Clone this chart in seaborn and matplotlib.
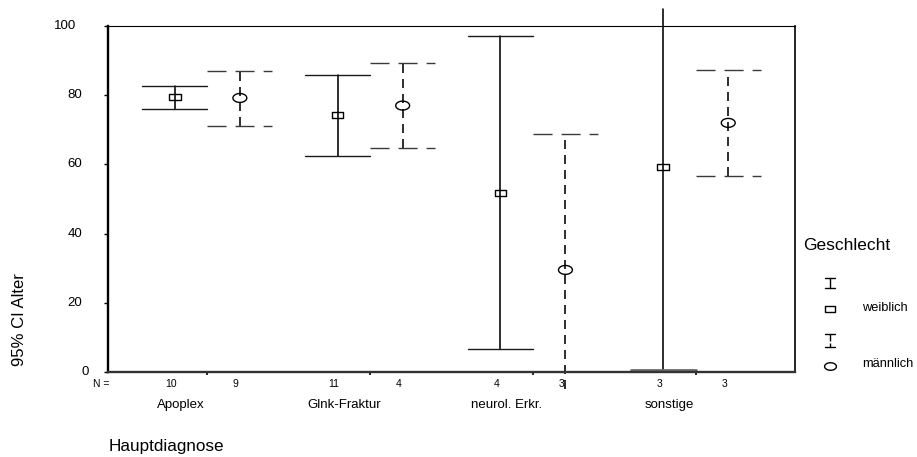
import numpy as np
import pandas as pd
import matplotlib
matplotlib.use("Agg")
import matplotlib.pyplot as plt
import matplotlib.transforms as mtransforms
from matplotlib.path import Path
from matplotlib.lines import Line2D
import seaborn as sns

# ---- data -------------------------------------------------------------
categories = ["Apoplex", "Glnk-Fraktur", "neurol. Erkr.", "sonstige"]
groups = ["weiblich", "männlich"]

mean_weiblich = [79.5, 74.2, 51.8, 59.3]
lower_weiblich = [76.1, 62.5, 6.6, 0.5]
upper_weiblich = [82.7, 85.8, 97.1, 104.9]
n_weiblich = [10, 11, 4, 3]

mean_maennlich = [79.2, 77.0, 29.5, 72.0]
lower_maennlich = [71.1, 64.7, -4.9, 56.6]
upper_maennlich = [87.0, 89.2, 68.8, 87.3]
n_maennlich = [9, 4, 3, 3]

y_ticks = [0, 20, 40, 60, 80, 100]

# ---- table ------------------------------------------------------------
dodge = 0.2
rows = []
for i, cat in enumerate(categories):
    rows.append(dict(Hauptdiagnose=cat, Geschlecht="weiblich", pos=i - dodge,
                     mean=mean_weiblich[i], lower=lower_weiblich[i],
                     upper=upper_weiblich[i], n=n_weiblich[i]))
    rows.append(dict(Hauptdiagnose=cat, Geschlecht="männlich", pos=i + dodge,
                     mean=mean_maennlich[i], lower=lower_maennlich[i],
                     upper=upper_maennlich[i], n=n_maennlich[i]))
df = pd.DataFrame(rows)

# ---- style ------------------------------------------------------------
sns.set_theme(style="white")
plt.rcParams["font.family"] = ["Liberation Sans", "DejaVu Sans"]
plt.rcParams["text.color"] = "black"
plt.rcParams["lines.scale_dashes"] = False

W, H = 917, 457
fig = plt.figure(figsize=(W / 100, H / 100), dpi=100)
fig.patch.set_facecolor("white")
ax = fig.add_axes([108 / W, (H - 372) / H, (795 - 108) / W, (372 - 26) / H])
ax.set_facecolor("white")


def fx(px):
    return px / W


def fy(py):
    return 1 - py / H


# hollow marker shapes
rect_path = Path([(-1, -0.55), (1, -0.55), (1, 0.55), (-1, 0.55), (-1, -0.55)],
                 [Path.MOVETO, Path.LINETO, Path.LINETO, Path.LINETO, Path.CLOSEPOLY])
theta = np.linspace(0, 2 * np.pi, 61)
ellipse_path = Path(np.column_stack([np.cos(theta), 0.64 * np.sin(theta)]))

line_styles = {"weiblich": "-", "männlich": (0, (6.5, 4.3))}
cap_styles = {"weiblich": "-", "männlich": (0, (13.7, 6.5))}
cap_colors = {"weiblich": "#1a1a1a", "männlich": "#3a3a3a"}

# ---- confidence intervals --------------------------------------------
ymin, ymax = 0, 100
for _, r in df.iterrows():
    g = r["Geschlecht"]
    ax.plot([r["pos"], r["pos"]], [r["lower"], r["upper"]], color="black",
            lw=1.15, ls=line_styles[g], clip_on=False, zorder=2)
    for v in (r["lower"], r["upper"]):
        if ymin <= v <= ymax:
            near_axis = v < 2
            ax.plot([r["pos"] - dodge, r["pos"] + dodge], [v, v],
                    color="#6a6a6a" if near_axis else cap_colors[g],
                    lw=2.0 if near_axis else 1.0, ls=cap_styles[g],
                    clip_on=False, zorder=2.5)

# ---- means -------------------------------------------------------------
sns.scatterplot(data=df, x="pos", y="mean", style="Geschlecht",
                markers={"weiblich": rect_path, "männlich": ellipse_path},
                size="Geschlecht",
                sizes={"weiblich": 8.4 ** 2, "männlich": 10 ** 2},
                color="black", edgecolor="black", linewidth=1.0,
                legend=False, ax=ax, zorder=3, clip_on=False)
for coll in ax.collections:
    coll.set_facecolor("none")
    coll.set_edgecolor("black")

# ---- axes --------------------------------------------------------------
ax.set_xlim(-0.61, len(categories) - 1 + 0.61)
ax.set_ylim(ymin, ymax)
ax.set_xticks(range(len(categories)))
ax.set_xticklabels([])
ax.set_yticks(y_ticks)
ax.set_yticklabels([])
ax.set_xlabel("")
ax.set_ylabel("")
ax.tick_params(axis="x", direction="out", length=2.4, width=1.2,
               color="black", bottom=True)
ax.tick_params(axis="y", direction="out", length=3.0, width=1.0,
               color="black", left=True)
ax.spines["left"].set_linewidth(1.7)
ax.spines["left"].set_color("black")
ax.spines["bottom"].set_linewidth(1.7)
ax.spines["bottom"].set_color("#333333")
ax.spines["top"].set_linewidth(0.8)
ax.spines["top"].set_color("black")
ax.spines["right"].set_linewidth(1.2)
ax.spines["right"].set_color("black")
for s in ax.spines.values():
    s.set_visible(True)

# y tick labels
ytrans = mtransforms.blended_transform_factory(fig.transFigure, ax.transData)
for t in y_ticks:
    lab = str(t)
    fig.text(fx(95.5 - 6.5 * len(lab)), t, lab, transform=ytrans,
             ha="right", va="center", fontsize=9.5, color="black")

# N = row and category names
xtrans = mtransforms.blended_transform_factory(ax.transData, fig.transFigure)
fig.text(fx(101), fy(384), "N =", ha="center", va="center", fontsize=7.5)
for _, r in df.iterrows():
    ax.text(r["pos"] - 0.025, fy(384), str(r["n"]), transform=xtrans,
            ha="center", va="center", fontsize=7.5, color="black")
for i, cat in enumerate(categories):
    ax.text(i - 0.16, fy(405), cat, transform=xtrans, ha="center",
            va="center", fontsize=9.5, color="black")

fig.text(fx(109), fy(446), "Hauptdiagnose", ha="left", va="center",
         fontsize=12.3)
fig.text(fx(20), fy(320), "95% CI Alter", rotation=90, ha="center",
         va="center", fontsize=12)

# ---- legend ------------------------------------------------------------
fig.text(fx(803), fy(245), "Geschlecht", ha="left", va="center",
         fontsize=12.5)
lx = 830


def fline(xs, ys, **kw):
    fig.add_artist(Line2D([fx(x) for x in xs], [fy(y) for y in ys],
                          transform=fig.transFigure, color="black", **kw))


fline([lx, lx], [278, 288], lw=1.0)
fline([lx - 5, lx + 5], [278, 278], lw=1.0)
fline([lx - 5, lx + 5], [288, 288], lw=1.0)
fline([lx], [309], marker=rect_path, markersize=7.5, mfc="none", mec="black",
      mew=1.0, ls="none")
fig.text(fx(862), fy(308), "weiblich", ha="left", va="center", fontsize=9.3)

fline([lx, lx], [334, 347], lw=1.0, ls=(0, (5, 1.5)))
fline([lx - 5, lx + 5], [334, 334], lw=1.0)
fline([lx - 5, lx + 5], [347, 347], lw=1.0)
fline([lx], [366], marker=ellipse_path, markersize=8.5, mfc="none",
      mec="black", mew=1.0, ls="none")
fig.text(fx(862), fy(364), "männlich", ha="left", va="center", fontsize=9.3)

fig.savefig("out.png", dpi=100, facecolor="white")
